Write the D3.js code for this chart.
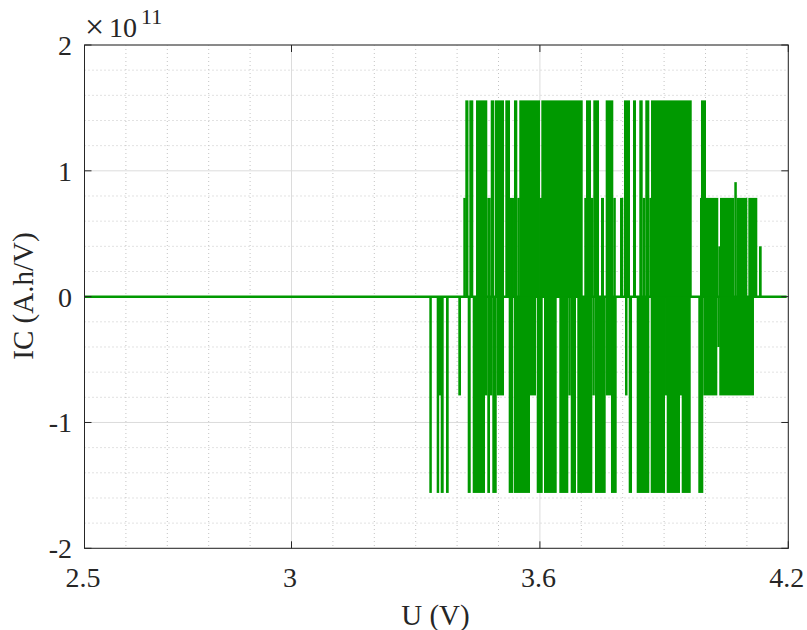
<!DOCTYPE html>
<html>
<head>
<meta charset="utf-8">
<script src="https://cdn.jsdelivr.net/npm/d3@7"></script>
<style>
  html, body { margin: 0; padding: 0; background: #ffffff; }
  svg { display: block; }
  text { font-family: "Liberation Serif", "Times New Roman", serif; fill: #262626; }
</style>
</head>
<body>
<svg id="chart" width="807" height="630"></svg>
<script>
// ---- data (IC in units of 1e11 A.h/V, U in V) ----
const F = 1.55, Hh = 0.775, Q = 0.39, P = 0.9;
const xTicks = [2.5, 3, 3.6, 4.2];
const yTicks = [-2, -1, 0, 1, 2];
const xMinor = [2.6, 2.7, 2.8, 2.9, 3.1, 3.2, 3.3, 3.4, 3.5, 3.7, 3.8, 3.9, 4.0, 4.1];
const yMinor = [-1.8, -1.6, -1.4, -1.2, -0.8, -0.6, -0.4, -0.2, 0.2, 0.4, 0.6, 0.8, 1.2, 1.4, 1.6, 1.8];
const baselineU = [2.5, 4.196];
// positive excursions: [U start, U end, IC level]
const upperSegments = [
  [3.4150, 3.4198, Hh], [3.4198, 3.4275, F], [3.4295, 3.4391, F], [3.4457, 3.4729, F],
  [3.4729, 3.4812, Hh], [3.4812, 3.4899, F], [3.4915, 3.5133, F], [3.5164, 3.5278, F],
  [3.5278, 3.5374, Hh], [3.5374, 3.5454, F], [3.5454, 3.5502, Hh], [3.5502, 3.6002, F],
  [3.6002, 3.6034, Hh], [3.6034, 3.7034, F], [3.7072, 3.7114, Hh], [3.7114, 3.7234, F],
  [3.7234, 3.7290, Hh], [3.7290, 3.7428, F], [3.7476, 3.7548, Hh], [3.7589, 3.7773, F],
  [3.7773, 3.7814, Hh], [3.7935, 3.8014, Hh], [3.8031, 3.8176, F], [3.8249, 3.8321, F],
  [3.8401, 3.8483, F], [3.8483, 3.8546, Hh], [3.8546, 3.8643, F], [3.8643, 3.8684, Hh],
  [3.8684, 3.9667, F], [3.9867, 3.9891, Hh], [3.9891, 4.0012, F], [4.0012, 4.0309, Hh],
  [4.0309, 4.0350, Q], [4.0350, 4.0696, Hh], [4.0696, 4.0754, P], [4.0754, 4.1010, Hh],
  [4.1034, 4.1251, Hh], [4.1292, 4.1357, Q]
];
// negative excursions: [U start, U end, IC level]
const lowerSegments = [
  [3.3329, 3.3386, -F], [3.3507, 3.3563, -F], [3.3563, 3.3604, -Hh], [3.3604, 3.3676, -F],
  [3.3732, 3.3797, -F], [3.4029, 3.4094, -Hh], [3.4256, 3.4329, -F], [3.4377, 3.4674, -F],
  [3.4674, 3.4729, -Hh], [3.4729, 3.4795, -F], [3.4795, 3.4850, -Hh], [3.4850, 3.4957, -F],
  [3.4957, 3.5133, -Hh], [3.5246, 3.5358, -F], [3.5374, 3.5761, -F], [3.5761, 3.5906, -Hh],
  [3.5923, 3.6068, -F], [3.6099, 3.6406, -F], [3.6469, 3.6686, -F], [3.6686, 3.6744, -Hh],
  [3.6744, 3.6872, -F], [3.6903, 3.7266, -F], [3.7266, 3.7324, -Hh], [3.7331, 3.7589, -F],
  [3.7589, 3.7717, -Hh], [3.7717, 3.7855, -F], [3.8056, 3.8111, -Hh], [3.8145, 3.8225, -F],
  [3.8338, 3.8643, -F], [3.8676, 3.9022, -F], [3.9022, 3.9063, -Hh], [3.9063, 3.9384, -F],
  [3.9384, 3.9425, -Hh], [3.9425, 3.9643, -F], [3.9826, 3.9947, -F], [3.9947, 4.0012, -Hh],
  [4.0012, 4.0285, -Hh], [4.0285, 4.0333, -Q], [4.0333, 4.1171, -Hh]
];

(function draw() {
  const svg = d3.select("#chart");
  const pL = 84.5, pR = 788.3, pT = 45, pB = 548.3;
  const x = d3.scaleLinear().domain([2.5, 4.2]).range([pL, pR]);
  const y = d3.scaleLinear().domain([-2, 2]).range([pB, pT]);
  const green = "#009900";
  const axisColor = "#262626";
  const lw = 2.5;
  const serif = "'Liberation Serif', 'Times New Roman', serif";

  svg.append("rect").attr("width", 807).attr("height", 630).attr("fill", "#fff");

  // minor grid
  const g = svg.append("g");
  g.selectAll(".mx").data(xMinor).join("line").attr("class", "mx")
    .attr("x1", d => x(d)).attr("x2", d => x(d)).attr("y1", pT).attr("y2", pB)
    .attr("stroke", "#c4c4c4").attr("stroke-width", 1).attr("stroke-dasharray", "1,3");
  g.selectAll(".my").data(yMinor).join("line").attr("class", "my")
    .attr("x1", pL).attr("x2", pR).attr("y1", d => y(d)).attr("y2", d => y(d))
    .attr("stroke", "#c4c4c4").attr("stroke-width", 1).attr("stroke-dasharray", "1,3");
  // major grid
  svg.append("g").selectAll("line").data(xTicks).join("line")
    .attr("x1", d => x(d)).attr("x2", d => x(d)).attr("y1", pT).attr("y2", pB)
    .attr("stroke", "#dcdcdc").attr("stroke-width", 1);
  svg.append("g").selectAll("line").data(yTicks).join("line")
    .attr("x1", pL).attr("x2", pR).attr("y1", d => y(d)).attr("y2", d => y(d))
    .attr("stroke", "#dcdcdc").attr("stroke-width", 1);

  // data
  svg.append("clipPath").attr("id", "clip").append("rect")
    .attr("x", pL).attr("y", pT).attr("width", pR - pL).attr("height", pB - pT);
  const dg = svg.append("g").attr("clip-path", "url(#clip)");
  dg.append("path")
    .datum(baselineU)
    .attr("d", d3.line().x(d => x(d)).y(() => y(0)))
    .attr("stroke", green).attr("stroke-width", lw).attr("fill", "none");
  dg.selectAll(".up").data(upperSegments).join("rect").attr("class", "up")
    .attr("x", d => x(d[0])).attr("width", d => Math.max(x(d[1]) - x(d[0]), lw))
    .attr("y", d => y(d[2]) - lw / 2).attr("height", d => y(0) - y(d[2]) + lw / 2)
    .attr("fill", green);
  dg.selectAll(".dn").data(lowerSegments).join("rect").attr("class", "dn")
    .attr("x", d => x(d[0])).attr("width", d => Math.max(x(d[1]) - x(d[0]), lw))
    .attr("y", y(0)).attr("height", d => y(d[2]) - y(0) + lw / 2)
    .attr("fill", green);

  // axes box
  const ax = svg.append("g").attr("stroke", axisColor).attr("stroke-width", 1).attr("fill", "none");
  ax.append("rect").attr("x", pL).attr("y", pT).attr("width", pR - pL).attr("height", pB - pT);
  const tl = 7;
  xTicks.forEach(v => {
    ax.append("line").attr("x1", x(v)).attr("x2", x(v)).attr("y1", pB).attr("y2", pB - tl);
    ax.append("line").attr("x1", x(v)).attr("x2", x(v)).attr("y1", pT).attr("y2", pT + tl);
  });
  yTicks.forEach(v => {
    ax.append("line").attr("x1", pL).attr("x2", pL + tl).attr("y1", y(v)).attr("y2", y(v));
    ax.append("line").attr("x1", pR).attr("x2", pR - tl).attr("y1", y(v)).attr("y2", y(v));
  });

  // tick labels
  svg.append("g").selectAll("text").data(xTicks).join("text")
    .attr("font-family", serif)
    .attr("x", d => x(d) - 1.5).attr("y", 587).attr("text-anchor", "middle")
    .attr("font-size", 28).text(d => String(d));
  svg.append("g").selectAll("text").data(yTicks).join("text")
    .attr("font-family", serif)
    .attr("x", 72).attr("y", d => y(d) + 10).attr("text-anchor", "end")
    .attr("font-size", 28).text(d => String(d));

  // exponent
  const ex = svg.append("text").attr("font-family", serif).attr("font-size", 28);
  ex.append("tspan").attr("x", 85).attr("y", 38).attr("font-size", 34).text("\u00D7");
  ex.append("tspan").attr("x", 109).attr("y", 37).text("10");
  ex.append("tspan").attr("x", 141).attr("y", 24).attr("font-size", 22).text("11");

  // axis labels
  svg.append("text").attr("font-family", serif).attr("x", 435.5).attr("y", 625)
    .attr("text-anchor", "middle").attr("font-size", 29).text("U (V)");
  svg.append("text").attr("font-family", serif).attr("transform", "translate(33,296) rotate(-90)")
    .attr("text-anchor", "middle").attr("font-size", 29).text("IC (A.h/V)");
})();
</script>
</body>
</html>
